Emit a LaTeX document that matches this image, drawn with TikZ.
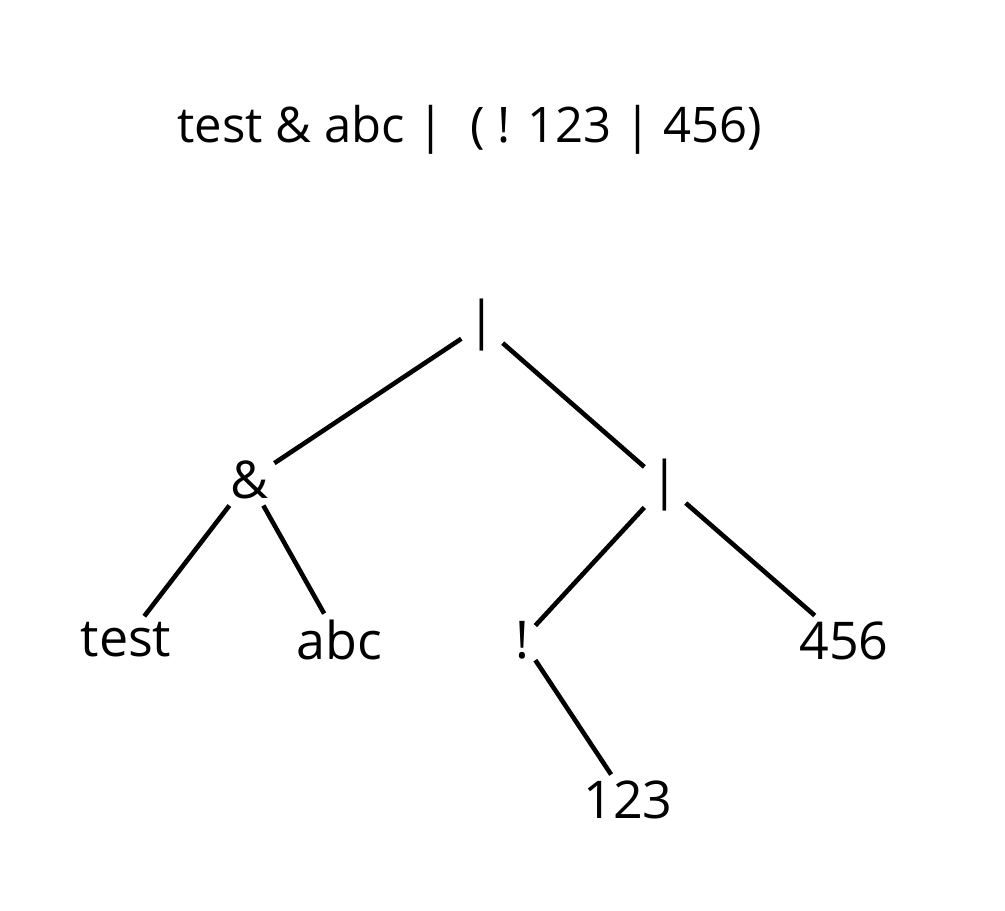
\documentclass[tikz,border=0pt]{standalone}
\usepackage{fontspec}
\setmainfont{Open Sans}
\usepackage{tikz}

\begin{document}
\begin{tikzpicture}[
  x=0.5pt, y=-0.5pt,
  tok/.style={font=\fontsize{26}{31}\selectfont, inner sep=3pt},
  branch/.style={line width=2.3pt, draw=black}
]
  \useasboundingbox (0,0) rectangle (1005,910);
  % expression
  \node[tok, font=\fontsize{24.5}{30}\selectfont, anchor=base] (expr) at (470,142) {test \& abc |\ \ ( ! 123 | 456)};
  % tree
  \node[tok] (root) at (482,325) {|};
  \node[tok] (amp) at (249,480) {\&};
  \node[tok] (orR) at (665,485) {|};
  \node[tok] (test) at (126,640) {test};
  \node[tok] (abc) at (339,640) {abc};
  \node[tok] (not) at (522,640) {!};
  \node[tok] (n456) at (844,641) {456};
  \node[tok] (n123) at (628,800) {123};
  \draw[branch] (root) -- (amp);
  \draw[branch] (root) -- (orR);
  \draw[branch] (amp) -- (test);
  \draw[branch] (amp) -- (abc);
  \draw[branch] (orR) -- (not);
  \draw[branch] (orR) -- (n456);
  \draw[branch] (not) -- (n123);
\end{tikzpicture}
\end{document}
